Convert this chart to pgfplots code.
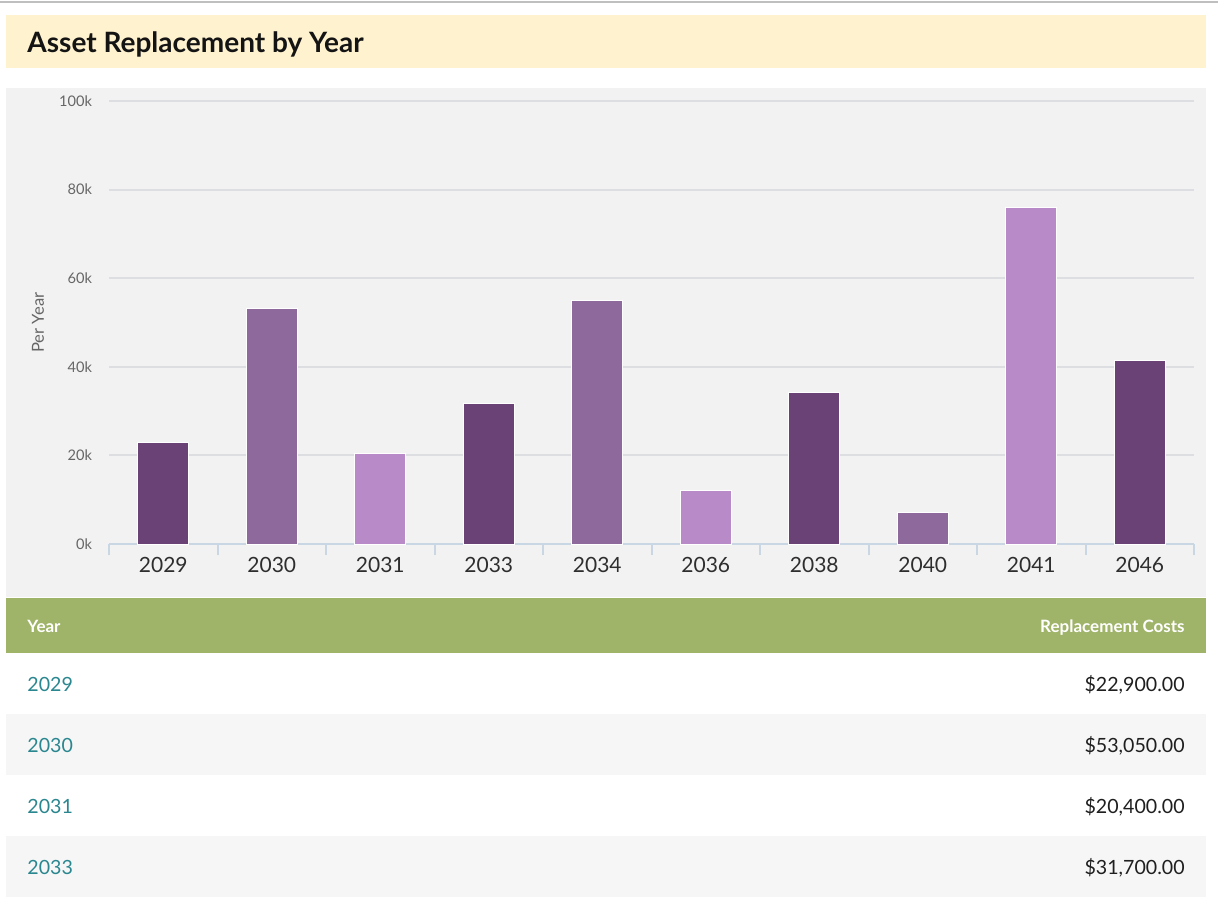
\documentclass[border=0pt]{standalone}
\usepackage{fontspec}
\setmainfont{Lato}
\usepackage{pgfplots}
\pgfplotsset{compat=1.18}

\definecolor{titlebg}{HTML}{FFF2CF}
\definecolor{chartbg}{HTML}{F2F2F2}
\definecolor{gridc}{HTML}{DCDEE2}
\definecolor{axisc}{HTML}{C9D6E4}
\definecolor{tickc}{HTML}{666666}
\definecolor{darkp}{HTML}{6B4275}
\definecolor{midp}{HTML}{8E699C}
\definecolor{lightp}{HTML}{B88AC8}
\definecolor{headc}{HTML}{9FB468}
\definecolor{rowalt}{HTML}{F6F6F6}
\definecolor{tealc}{HTML}{2A8790}

\begin{document}
\begin{tikzpicture}
% page layout in pixel units (1px = 0.5pt), y going down
\begin{scope}[x=0.5pt,y=-0.5pt]
\fill[white] (0,0) rectangle (1218,904);
\draw[black!25, line width=1pt] (0,2) -- (1218,2);
\fill[titlebg] (6,15) rectangle (1206,68);
\node[anchor=mid west, inner sep=0, text=black!92,
      font=\fontsize{14pt}{16pt}\selectfont\bfseries] at (27,47) {Asset Replacement by Year};
\fill[chartbg] (6,88) rectangle (1206,597);
% table
\fill[headc] (6,598) rectangle (1206,653);
\fill[rowalt] (6,714) rectangle (1206,775);
\fill[rowalt] (6,836) rectangle (1206,897);
\begin{scope}[every node/.style={inner sep=0}]
\node[anchor=mid west, text=white, font=\fontsize{8.5pt}{10pt}\selectfont\bfseries] at (27,627) {Year};
\node[anchor=mid east, text=white, font=\fontsize{8.5pt}{10pt}\selectfont\bfseries] at (1185,627) {Replacement Costs};
\foreach \yy/\yr/\cost in {686/2029/22{,}900.00, 747/2030/53{,}050.00, 808/2031/20{,}400.00, 869/2033/31{,}700.00}{
  \node[anchor=mid west, text=tealc, font=\fontsize{9.8pt}{11pt}\selectfont] at (27,\yy) {\yr};
  \node[anchor=mid east, text=black!88, font=\fontsize{9.8pt}{11pt}\selectfont] at (1185,\yy) {\$\cost};
}
\end{scope}
\end{scope}

\begin{axis}[
    at={(54.5pt,-272pt)}, anchor=south west,
    scale only axis, width=542.5pt, height=221.5pt,
    xmin=-0.5, xmax=9.5, ymin=0, ymax=100000,
    enlarge x limits=false, enlarge y limits=false,
    ybar, bar width=25.5pt,
    axis x line*=bottom, axis y line*=left,
    x axis line style={axisc, line width=1pt, -},
    y axis line style={draw=none},
    tick align=outside,
    scaled y ticks=false,
    ytick={0,20000,40000,60000,80000,100000},
    yticklabels={0k,20k,40k,60k,80k,100k},
    major y tick style={draw=none},
    xtick={0,...,9},
    xticklabels={2029,2030,2031,2033,2034,2036,2038,2040,2041,2046},
    major x tick style={draw=none},
    major tick length=0pt,
    minor xtick={-0.5,0.5,...,9.5},
    minor tick length=5.5pt,
    minor x tick style={draw=axisc, line width=1pt},
    ymajorgrids,
    major grid style={gridc, line width=1pt},
    yticklabel style={font=\fontsize{7.3pt}{8pt}\selectfont, text=tickc, anchor=east, xshift=-5pt},
    xticklabel style={font=\fontsize{10.5pt}{12pt}\selectfont, text=black!82, yshift=-3pt},
    ylabel={Per Year},
    every axis y label/.style={at={(axis description cs:-0.0654,0.5)}, rotate=90, anchor=center,
        font=\fontsize{8.3pt}{9pt}\selectfont, text=tickc},
]
\addplot[fill=darkp, draw=white, line width=0.5pt, bar shift=0pt]
  coordinates {(0,22900) (3,31700) (6,34100) (9,41500)};
\addplot[fill=midp, draw=white, line width=0.5pt, bar shift=0pt]
  coordinates {(1,53050) (4,55000) (7,7200)};
\addplot[fill=lightp, draw=white, line width=0.5pt, bar shift=0pt]
  coordinates {(2,20400) (5,12000) (8,76000)};
\end{axis}

\pgfresetboundingbox
\useasboundingbox (0,0) rectangle (609pt,-452pt);
\end{tikzpicture}
\end{document}
